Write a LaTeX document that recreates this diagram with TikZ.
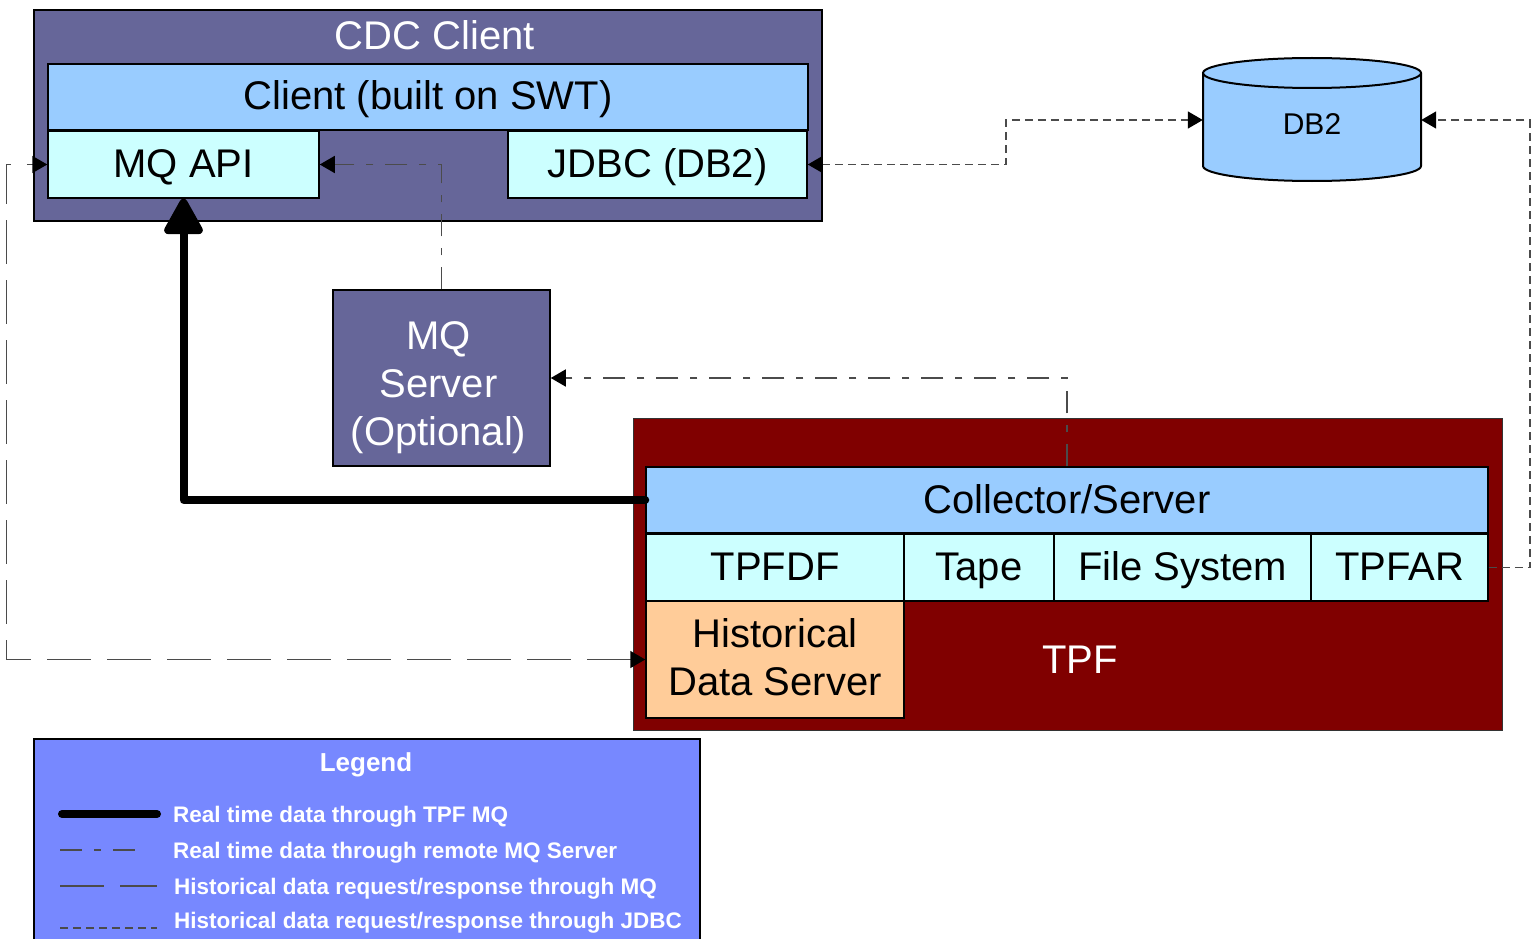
\documentclass[tikz,border=0pt]{standalone}
\usepackage{fontspec}
\setmainfont{Liberation Sans}
\usetikzlibrary{arrows.meta,calc}
\definecolor{cdcpurple}{HTML}{666699}
\definecolor{lightblue}{HTML}{99CCFF}
\definecolor{lightcyan}{HTML}{CCFFFF}
\definecolor{peach}{HTML}{FFCC99}
\definecolor{tpfred}{HTML}{800000}
\definecolor{legendblue}{RGB}{119,136,255}
\definecolor{linegray}{RGB}{75,75,75}
\begin{document}
\begin{tikzpicture}[x=1pt,y=-1pt,
  box/.style={draw=black, line width=1.5pt, inner sep=0pt, align=center,
    font=\fontsize{40}{48}\selectfont, text height=36pt, text depth=10pt},
  mbox/.style={draw=black, line width=1.5pt, inner sep=0pt},
  bigtext/.style={font=\fontsize{40}{48}\selectfont, inner sep=0pt, align=center},
  tip/.tip={Triangle[length=15pt,width=17pt,color=black]},
  smalltip/.style={-tip},
  remote/.style={draw=linegray, line width=1.5pt, dash pattern=on 22pt off 12pt on 7pt off 12pt},
  histmq/.style={draw=linegray, line width=1.5pt, dash pattern=on 44pt off 16pt},
  jdbcline/.style={draw=linegray, line width=1.5pt, dash pattern=on 8pt off 5pt},
  thick line/.style={draw=black, line width=8pt, line cap=round, line join=round},
  legtext/.style={anchor=base west, text=white, inner sep=0pt, font=\fontsize{22.5}{26}\selectfont\bfseries}
]
\useasboundingbox (0,0) rectangle (1536,939);
\clip (0,0) rectangle (1536,939);

% CDC client
\node[mbox, fill=cdcpurple, minimum width=788pt, minimum height=211pt] (cdc) at (428,115.5) {};
\node[bigtext, text=white] (cdctitle) at (435,35) {CDC Client};
\node[box, fill=lightblue, minimum width=760pt, minimum height=66pt] (client) at (428,97) {Client (built on SWT)};
\node[box, fill=lightcyan, minimum width=271pt, minimum height=67pt] (mqapi) at (183.5,164.5) {MQ API};
\node[box, fill=lightcyan, minimum width=299pt, minimum height=67pt] (jdbc) at (657.5,164.5) {JDBC (DB2)};

% MQ server
\node[mbox, fill=cdcpurple, minimum width=217pt, minimum height=176pt,
  label={[bigtext, text=white, yshift=-10pt, xshift=-3pt]center:MQ\\Server\\(Optional)}] (mqsrv) at (441.5,378) {};

% DB2 cylinder
\fill[lightblue] (1203,73) -- (1203,166) arc[start angle=180, end angle=360, x radius=109, y radius=-15] -- (1421,73) -- cycle;
\fill[lightblue] (1312,73) ellipse[x radius=109, y radius=15];
\draw[line width=2pt] (1203,73) -- (1203,166) arc[start angle=180, end angle=360, x radius=109, y radius=-15] -- (1421,73);
\draw[line width=2pt] (1312,73) ellipse[x radius=109, y radius=15];
\node[inner sep=0pt, minimum width=218pt, minimum height=123pt] (db2) at (1312,120) {};
\node[inner sep=0pt, font=\fontsize{30}{36}\selectfont] (db2label) at (1312,124) {DB2};

% TPF
\node[draw=black!80, line width=1pt, fill=tpfred, minimum width=869pt, minimum height=312pt, inner sep=0pt] (tpf) at (1067.5,574) {};
\node[bigtext, text=white] (tpflabel) at (1080,660) {TPF};
\node[box, fill=lightblue, minimum width=842pt, minimum height=66pt] (coll) at (1067,500) {Collector/Server};
\node[box, fill=lightcyan, minimum width=258pt, minimum height=67pt] (tpfdf) at (775,567.5) {TPFDF};
\node[box, fill=lightcyan, minimum width=150pt, minimum height=67pt] (tape) at (979,567.5) {Tape};
\node[box, fill=lightcyan, minimum width=257pt, minimum height=67pt] (fs) at (1182.5,567.5) {File System};
\node[box, fill=lightcyan, minimum width=177pt, minimum height=67pt] (tpfar) at (1399.5,567.5) {TPFAR};
\node[mbox, fill=peach, minimum width=258pt, minimum height=117pt,
  label={[bigtext, yshift=2pt]center:Historical\\Data Server}] (hds) at (775,659.5) {};

% connectors
\draw[thick line, -{Triangle[length=40pt,width=42pt,round]}] (coll.west) -| (mqapi.south);
\draw[remote, smalltip] (mqsrv.north) |- (mqapi.east);
\draw[remote, smalltip] (coll.north) |- (mqsrv.east);
\draw[jdbcline, tip-tip] (jdbc.east) -- ++(198,0) |- (db2.west);
\draw[jdbcline, smalltip] (tpfar.east) -- ++(41,0) |- (db2.east);
\draw[histmq, tip-tip] (hds.west) -- ++(-639,0) |- (mqapi.west);

% legend
\node[draw=black, line width=1.5pt, fill=legendblue, minimum width=666pt, minimum height=220pt, inner sep=0pt] (legend) at (367,849) {};
\node[anchor=base, text=white, inner sep=0pt, font=\fontsize{26}{30}\selectfont\bfseries] (legtitle) at (366,771) {Legend};
\coordinate (l1a) at (62,814); \coordinate (l1b) at (157,814);
\coordinate (l2a) at (60,850); \coordinate (l2b) at (146,850);
\coordinate (l3a) at (60,886); \coordinate (l3b) at (157,886);
\coordinate (l4a) at (60,928); \coordinate (l4b) at (157,928);
\draw[thick line] (l1a) -- (l1b);
\draw[remote] (l2a) -- (l2b);
\draw[histmq] (l3a) -- (l3b);
\draw[jdbcline] (l4a) -- (l4b);
\node[legtext] (t1) at (173,822) {Real time data through TPF MQ};
\node[legtext] (t2) at (173,858) {Real time data through remote MQ Server};
\node[legtext] (t3) at (174,894) {Historical data request/response through MQ};
\node[legtext] (t4) at (174,928) {Historical data request/response through JDBC};
\end{tikzpicture}
\end{document}
